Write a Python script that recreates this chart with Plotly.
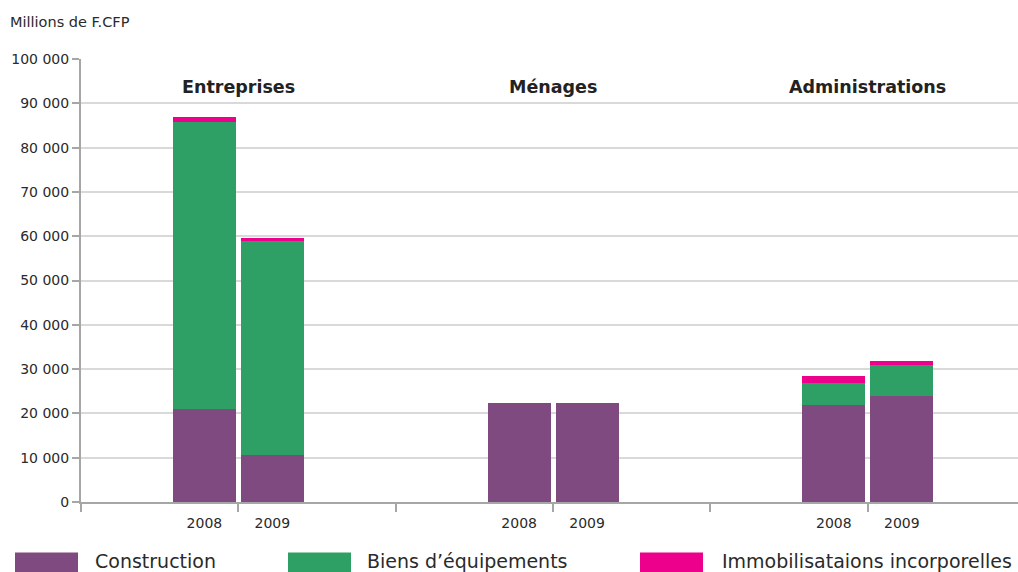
import plotly.graph_objects as go

groups = ["Entreprises", "Ménages", "Administrations"]
years = ["2008", "2009"]
series_names = ["Construction", "Biens d’équipements", "Immobilisataions incorporelles"]
colors = ["#7F4A80", "#2EA065", "#EC008C"]

# values in millions F.CFP, order: [E2008, E2009, M2008, M2009, A2008, A2009]
construction = [21000, 10700, 22400, 22400, 22000, 24000]
biens = [64800, 48200, 0, 0, 4900, 7000]
immob = [1000, 700, 0, 0, 1600, 900]

y_tickvals = [0, 10000, 20000, 30000, 40000, 50000, 60000, 70000, 80000, 90000, 100000]
y_ticktext = ["0", "10 000", "20 000", "30 000", "40 000", "50 000", "60 000", "70 000", "80 000", "90 000", "100 000"]

offset = 0.108
xpos = []
xlab = []
for gi, g in enumerate(groups):
    for yi, yr in enumerate(years):
        xpos.append(gi + (-offset if yi == 0 else offset))
        xlab.append(yr)

FONT = "DejaVu Sans"
W, H = 1018, 572
L, T, B = 81, 59, 69.5
PW = W - L
PH = H - T - B

def px(xp):
    return (xp - L) / PW

def py(yp):
    return (H - B - yp) / PH

fig = go.Figure()
for name, vals, col in zip(series_names, [construction, biens, immob], colors):
    fig.add_trace(go.Bar(x=xpos, y=vals, name=name, marker=dict(color=col, line=dict(width=0)),
                         width=0.2, showlegend=False))

fig.update_layout(
    barmode="stack",
    width=W, height=H,
    margin=dict(l=L, r=0, t=T, b=B),
    plot_bgcolor="white", paper_bgcolor="white",
    font=dict(family=FONT, color="#2a2a2a"),
    xaxis=dict(range=[-0.5, 2.477], tickmode="array", tickvals=xpos, ticktext=xlab,
               ticks="", showgrid=False, showline=True, linecolor="#A6A6A6", linewidth=2,
               tickfont=dict(size=14, color="#2a2a2a"), zeroline=False, ticklabelstandoff=7,
               minor=dict(tickmode="array", tickvals=[-0.5, 0, 0.5, 1, 1.5, 2], ticks="outside",
                          ticklen=8, tickwidth=1.5, tickcolor="#A6A6A6", showgrid=False)),
    yaxis=dict(range=[0, 100000], tickmode="array", tickvals=y_tickvals, ticktext=y_ticktext,
               ticks="outside", ticklen=7, tickwidth=1.5, tickcolor="#A6A6A6",
               showgrid=True, gridcolor="#D9D9D9", gridwidth=1.5,
               showline=True, linecolor="#A6A6A6", linewidth=2, zeroline=False,
               tickfont=dict(size=14, color="#2a2a2a")),
)

fig.add_annotation(text="Millions de F.CFP", xref="paper", yref="paper", x=px(8), y=py(22),
                   xanchor="left", yanchor="middle", showarrow=False, font=dict(size=14.5, color="#2a2a2a"))

for gi, g in enumerate(groups):
    fig.add_annotation(text="<b>" + g + "</b>", x=gi, xref="x", y=py(87), yref="paper",
                       showarrow=False, xanchor="center", yanchor="middle",
                       font=dict(size=17.5, color="#222222"))

# custom legend
leg_x = [15, 288, 640]
text_x = [93, 365, 720]
for name, col, lx, tx in zip(series_names, colors, leg_x, text_x):
    fig.add_shape(type="rect", xref="paper", yref="paper", x0=px(lx), x1=px(lx + 63),
                  y0=py(580), y1=py(553), fillcolor=col, line=dict(width=0))
    fig.add_annotation(text=name, xref="paper", yref="paper", x=px(tx),
                       y=py(562), xanchor="left", yanchor="middle", showarrow=False,
                       font=dict(size=19, color="#2a2a2a"))

fig.write_html("out.html", config={"displayModeBar": False},
               post_script="document.body.style.margin='0';document.body.style.padding='0';")
